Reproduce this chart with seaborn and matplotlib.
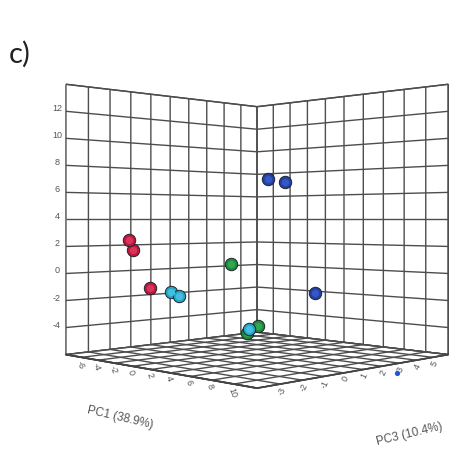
import matplotlib
matplotlib.use("Agg")
import matplotlib.pyplot as plt
import seaborn as sns

sns.set_theme(style="white")
plt.rcParams['font.family'] = ['Liberation Sans', 'DejaVu Sans']

# PC1, PC3, PC2
red_pc1 = [-4.7, -4.5, -3.6]
red_pc3 = [-2.35, -2.25, -1.8]
red_pc2 = [2.51, 1.76, -1.07]

cyan_pc1 = [-1.0, -0.54, 3.7]
cyan_pc3 = [-1.9, -1.68, -0.26]
cyan_pc2 = [-1.22, -1.52, -3.8]

green_pc1 = [0.63, 2.76, 2.9]
green_pc3 = [0.31, 0.67, 0.03]
green_pc2 = [0.72, -3.8, -4.2]

blue_pc1 = [0.49, 1.42, 3.68]
blue_pc3 = [2.36, 2.83, 3.25]
blue_pc2 = [7.11, 6.88, -1.6]

stray_pc1 = [14.47]
stray_pc3 = [1.23]
stray_pc2 = [-6]

pc1_ticks = [-8, -6, -4, -2, 0, 2, 4, 6, 8, 10, 12]
pc1_labels = ["", "-6", "-4", "-2", "0", "2", "4", "6", "8", "10", ""]
pc3_ticks = [-4, -3, -2, -1, 0, 1, 2, 3, 4, 5, 6]
pc3_labels = ["", "-3", "-2", "-1", "0", "1", "2", "3", "4", "5", ""]
pc2_ticks = [-6, -4, -2, 0, 2, 4, 6, 8, 10, 12, 14]
pc2_labels = ["", "-4", "-2", "0", "2", "4", "6", "8", "10", "12", ""]

groups = [
    (red_pc1, red_pc3, red_pc2, "#c4143c", "#d8355a"),
    (green_pc1, green_pc3, green_pc2, "#1f8a3a", "#35a552"),
    (blue_pc1, blue_pc3, blue_pc2, "#2340a8", "#3558c4"),
    (cyan_pc1, cyan_pc3, cyan_pc2, "#25a5c8", "#45bfdd"),
]

fig = plt.figure(figsize=(4.5, 4.51), dpi=100)
ax = fig.add_axes([26 / 450, 0 / 451, 1, 1], projection="3d", computed_zorder=False)
ax.set_proj_type("persp", focal_length=0.395)
ax.view_init(elev=0, azim=-45)
ax.set_box_aspect((1, 1, 1), zoom=1.01)

ax.set_xlim(-8, 12, view_margin=0)
ax.set_ylim(-4, 6, view_margin=0)
ax.set_zlim(-6, 14, view_margin=0)
ax.set_xticks(pc1_ticks, pc1_labels)
ax.set_yticks(pc3_ticks, pc3_labels)
ax.set_zticks(pc2_ticks, pc2_labels)

for axis in [ax.xaxis, ax.yaxis, ax.zaxis]:
    axis.set_pane_color((1, 1, 1, 1))
    axis.pane.set_edgecolor("#444444")
    axis.line.set_color("#444444")
    axis._axinfo["grid"].update(color="#4d4d4d", linewidth=1.0)
    axis._axinfo["tick"]["inward_factor"] = 0
    axis._axinfo["tick"]["outward_factor"] = 0

# move the vertical axis labels to the left edge
ax.zaxis._axinfo["juggled"] = (1, 0, 2)

ax.tick_params(axis="x", labelsize=6.5, labelcolor="#555555", labelrotation=-70, pad=-7)
ax.tick_params(axis="y", labelsize=6.5, labelcolor="#555555", labelrotation=65, pad=-7)
ax.tick_params(axis="z", labelsize=6.5, labelcolor="#555555", pad=-4)
for t in ax.get_zticklabels():
    t.set_va("baseline")

for i, (px, py, pz, col, light) in enumerate(groups):
    ax.scatter(px, py, pz, s=80, c=col, edgecolors="#1c2430", linewidths=0.7,
               depthshade=False, zorder=5 + 2 * i)
    ax.scatter(px, py, pz, s=28, c=light, linewidths=0,
               depthshade=False, zorder=6 + 2 * i)

ax.scatter(stray_pc1, stray_pc3, stray_pc2, s=14, c="#1a55e0", linewidths=0, depthshade=False, zorder=20)

fig.text(120 / 450, 1 - 418 / 451, "PC1 (38.9%)", fontsize=8.5, color="#555555",
         rotation=-13, ha="center", va="center")
fig.text(409 / 450, 1 - 434 / 451, "PC3 (10.4%)", fontsize=8.5, color="#555555",
         rotation=13.5, ha="center", va="center")
fig.text(9 / 450, 1 - 54 / 451, "c)", fontsize=21, color="#222222", family="Lato",
         ha="left", va="center")

fig.savefig("out.png", dpi=100)
